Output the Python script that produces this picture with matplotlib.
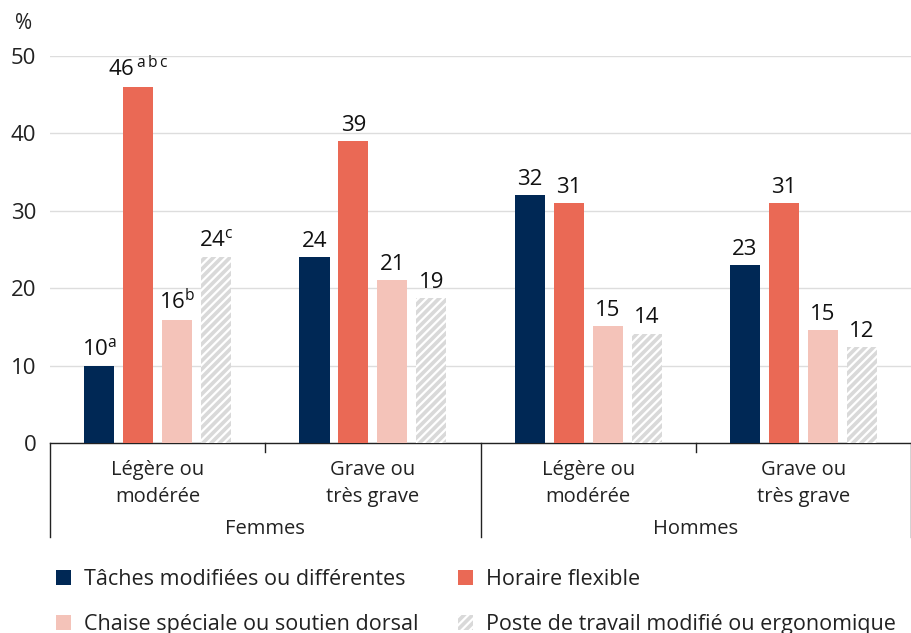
import matplotlib
matplotlib.use("Agg")
import matplotlib.pyplot as plt
from matplotlib.patches import Patch
import numpy as np

plt.rcParams['font.family'] = ['Open Sans', 'DejaVu Sans']
plt.rcParams['mathtext.fontset'] = 'custom'
plt.rcParams['mathtext.rm'] = 'Open Sans'
plt.rcParams['hatch.linewidth'] = 1.6

# data
groups = ["Légère ou\nmodérée", "Grave ou\ntrès grave", "Légère ou\nmodérée", "Grave ou\ntrès grave"]
sexes = ["Femmes", "Hommes"]
series = ["Tâches modifiées ou différentes", "Horaire flexible",
          "Chaise spéciale ou soutien dorsal", "Poste de travail modifié ou ergonomique"]
taches = [10, 24, 32, 23]
horaire = [46, 39, 31, 31]
chaise = [15.9, 21, 15.1, 14.6]
poste = [24, 18.7, 14.1, 12.4]
labels = [
    ["10", "24", "32", "23"],
    ["46", "39", "31", "31"],
    ["16", "21", "15", "15"],
    ["24", "19", "14", "12"],
]
sups = [
    ["a", "", "", ""],
    ["\\,a\\,b\\,c", "", "", ""],
    ["b", "", "", ""],
    ["c", "", "", ""],
]

colors = ["#002855", "#EA6955", "#F4C3B9", "#D9D9D9"]
values = [taches, horaire, chaise, poste]

fig = plt.figure(figsize=(9.11, 6.33), dpi=100)
ax = fig.add_axes([0.0549, 0.3002, 0.9451, 0.6113])

x = np.arange(len(groups))
width = 0.14
step = 0.181
offsets = (np.arange(4) - 1.5) * step

for i, vals in enumerate(values):
    if i == 3:
        bars = ax.bar(x + offsets[i], vals, width, color=colors[i], edgecolor="white",
                      hatch="////", linewidth=0, zorder=3)
    else:
        bars = ax.bar(x + offsets[i], vals, width, color=colors[i], linewidth=0, zorder=3)
    for j, b in enumerate(bars):
        lab = labels[i][j]
        if sups[i][j]:
            s = r"$\mathregular{" + lab + "^{" + sups[i][j] + "}}$"
        else:
            s = lab
        ax.text(b.get_x() + b.get_width() / 2, vals[j] + 0.7, s, ha="center", va="bottom",
                fontsize=16, color="#111111")

ax.set_xlim(-0.5, 3.5)
ax.set_ylim(0, 50)
ax.set_yticks([0, 10, 20, 30, 40, 50])
ax.tick_params(axis="y", length=0, labelsize=16, labelcolor="#222222", pad=10)
ax.set_xticks([])
ax.grid(axis="y", color="#DDDDDD", linewidth=1, zorder=0)
for s in ["left", "right", "top"]:
    ax.spines[s].set_visible(False)
ax.spines["bottom"].set_color("#222222")
ax.spines["bottom"].set_linewidth(1)

tr = ax.get_xaxis_transform()
for xv in [-0.5, 1.5, 3.5]:
    ax.plot([xv, xv], [0, -0.243], transform=tr, color="#222222", lw=1, clip_on=False)
for xv in [0.5, 2.5]:
    ax.plot([xv, xv], [0, -0.024], transform=tr, color="#222222", lw=1, clip_on=False)
for i, g in enumerate(groups):
    ax.text(x[i], -0.105, g, transform=tr, ha="center", va="center", fontsize=14.5,
            color="#222222", linespacing=1.5)
for k, sname in enumerate(sexes):
    ax.text(0.5 + 2 * k, -0.222, sname, transform=tr, ha="center", va="center",
            fontsize=14.5, color="#222222")

fig.text(0.016, 0.963, "%", fontsize=15, color="#222222", va="center")

handles = [
    Patch(facecolor=colors[0], label=series[0]),
    Patch(facecolor=colors[2], label=series[2]),
    Patch(facecolor=colors[1], label=series[1]),
    Patch(facecolor=colors[3], edgecolor="white", hatch="////", linewidth=0, label=series[3]),
]
fig.legend(handles=handles, ncol=2, loc="upper left", bbox_to_anchor=(0.061, 0.101),
           frameon=False, fontsize=15.5, handlelength=0.7, handleheight=0.7,
           handletextpad=0.6, columnspacing=1.85, labelspacing=1.1, borderpad=0,
           borderaxespad=0, labelcolor="#222222")

fig.savefig("out.png", dpi=100)
